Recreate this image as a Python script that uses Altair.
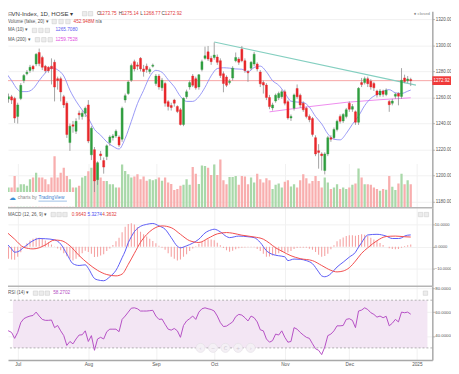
import altair as alt
import pandas as pd

FONT = "Liberation Sans"

# ---------------- data ----------------
days = list(range(-4, 129))  # trading-day index, 0 = 1 Jul 2024

opens = [1262, 1258.8, 1260.5, 1259.3, 1245.5, 1259.3, 1273, 1278.2, 1280.7, 1283.9,
         1285.7, 1294.5, 1290.7, 1283.9, 1283.2, 1284, 1287, 1274.4, 1274.4, 1260.6,
         1255.5, 1225.4, 1239, 1234.1, 1248, 1245.4, 1248, 1254.3, 1216, 1220,
         1197, 1216.7, 1211.6, 1214.7, 1225.5, 1229.2, 1230.5, 1229.7, 1228, 1258.1,
         1263.1, 1273.2, 1287.5, 1285, 1290, 1281.9, 1284, 1279.9, 1284, 1270.7,
         1276.4, 1267.4, 1270.7, 1256.8, 1253.8, 1258, 1253.1, 1250.6, 1239.3, 1260.6,
         1268.1, 1276.4, 1274.4, 1268.1, 1281.4, 1290, 1295, 1290, 1290.7, 1291,
         1288.2, 1278.2, 1275.7, 1271.4, 1274.9, 1288.2, 1289.5, 1297, 1288.2, 1279.9,
         1282.5, 1285.7, 1285.7, 1279.5, 1271.5, 1269.5, 1260, 1252, 1257.3, 1259.8,
         1260.6, 1264.4, 1256.8, 1244.3, 1251.8, 1266.9, 1261.8, 1255.6, 1251.8, 1245.5,
         1243.8, 1229.2, 1219.2, 1216.7, 1204, 1216.7, 1229.2, 1229.2, 1235.5, 1245.5,
         1242, 1245.5, 1255.6, 1251, 1249, 1241, 1271.4, 1271.4, 1274.4, 1272.4,
         1270.7, 1265, 1262, 1265, 1262.3, 1257, 1255.6, 1261, 1263, 1260.8,
         1275, 1272.8, 1273.75]
highs = [1264, 1263, 1262, 1260.5, 1256, 1271, 1278, 1281, 1285, 1285,
         1294, 1297.5, 1292, 1285, 1284, 1290, 1289, 1276, 1276, 1262,
         1257, 1240, 1242, 1244, 1250, 1250, 1253, 1258, 1238, 1222,
         1211, 1219, 1214, 1224, 1231, 1232, 1235.5, 1231, 1253, 1263,
         1273, 1286, 1289, 1287, 1291, 1285, 1286, 1283, 1286, 1278,
         1278, 1275, 1272, 1258, 1256, 1259, 1254, 1252, 1260, 1266,
         1273, 1278, 1276, 1278, 1289, 1299, 1299.5, 1292, 1302.2, 1293,
         1290, 1280, 1277, 1274, 1284, 1294.5, 1291, 1299.5, 1290, 1281,
         1288, 1295, 1287, 1281, 1273, 1271, 1262, 1256, 1263, 1264.5,
         1266, 1266, 1258, 1247, 1263, 1270, 1263, 1257, 1253, 1247,
         1245, 1231, 1224.2, 1218, 1218, 1230.5, 1231, 1237, 1243, 1247,
         1248, 1252, 1257, 1255, 1250, 1268, 1275, 1276, 1276, 1274,
         1272, 1266, 1266.5, 1266, 1267, 1258, 1259, 1263.5, 1264, 1282.5,
         1277.5, 1276.5, 1275.14]
lows = [1255, 1256, 1255, 1240.5, 1240, 1258, 1271, 1277, 1279, 1280,
        1284, 1284, 1281, 1279, 1279, 1270, 1257, 1266, 1257, 1252,
        1229, 1219, 1233, 1232, 1243, 1243, 1245, 1225, 1212, 1187.5,
        1193, 1212, 1201.6, 1212, 1223, 1227, 1229, 1222, 1226, 1256,
        1262, 1272, 1280, 1281, 1280, 1276, 1279, 1278, 1283, 1269,
        1266, 1265, 1253, 1250, 1250, 1253, 1248, 1238.5, 1238, 1259,
        1266, 1268, 1266, 1266, 1280, 1289, 1288, 1285, 1289, 1285,
        1275, 1264, 1268, 1270, 1273, 1287, 1285, 1287, 1279, 1272,
        1281, 1284, 1280, 1268, 1263, 1258, 1251, 1250, 1256, 1258,
        1259, 1254, 1243, 1242, 1250, 1259, 1252, 1249, 1244, 1241,
        1230, 1215, 1205.4, 1204, 1201, 1215, 1226, 1228, 1234, 1240,
        1240.5, 1244, 1249, 1249, 1239, 1239, 1268, 1270, 1268, 1266,
        1265, 1260, 1260.5, 1260.5, 1261, 1249, 1254, 1259, 1254, 1259,
        1271, 1271, 1268.77]
closes = [1259, 1260.6, 1258, 1244.2, 1254.3, 1269.3, 1276.9, 1279.4, 1283.2, 1281.9,
          1293.2, 1286, 1283.2, 1280.6, 1280.6, 1282, 1268, 1273, 1264.3, 1254.3,
          1231.6, 1238, 1238, 1241.7, 1246.7, 1248, 1251.7, 1226.6, 1236.5, 1196,
          1210, 1215.4, 1206.6, 1222.9, 1229.7, 1230.5, 1234.2, 1223.5, 1251.8, 1261.4,
          1271.9, 1284.5, 1281.9, 1284, 1281.9, 1279.9, 1281.5, 1281.5, 1284.8, 1276.4,
          1268.1, 1273.2, 1255.6, 1253.1, 1252.3, 1255.6, 1249.3, 1239.3, 1259.4, 1264.4,
          1271.4, 1269.4, 1267.4, 1277.4, 1287.5, 1292, 1289.5, 1287.5, 1292.5, 1287,
          1276.9, 1270.7, 1269.4, 1272.4, 1282.5, 1290.7, 1287, 1288.2, 1280.7, 1278.9,
          1287, 1293.2, 1281.9, 1270.5, 1269.5, 1260, 1253, 1254.3, 1261.8, 1263.1,
          1264.4, 1255.6, 1244.3, 1245.5, 1262, 1260.6, 1254.3, 1250.6, 1245.5, 1243,
          1231.7, 1216.7, 1217.9, 1215.4, 1216.7, 1229.2, 1228, 1235.5, 1241.8, 1241.8,
          1247, 1250.6, 1251, 1253, 1241, 1267, 1269.9, 1274.4, 1270.6, 1268.1,
          1267.4, 1262, 1265, 1262.5, 1265.6, 1254.5, 1257.3, 1262.5, 1261, 1273.2,
          1272.2, 1274.2, 1272.92]
volumes = [516, 390, 390, 610, 390, 453, 453, 422, 548, 579,
           673, 579, 579, 548, 453, 579, 988, 579, 673, 768,
           610, 548, 390, 390, 420, 579, 610, 700, 768, 900,
           831, 579, 516, 516, 453, 453, 390, 390, 832, 706,
           643, 580, 600, 643, 548, 600, 517, 548, 530, 548,
           580, 517, 580, 485, 454, 340, 360, 422, 441, 548,
           441, 781, 655, 454, 813, 800, 769, 630, 832, 630,
           926, 528, 453, 592, 592, 611, 441, 611, 598, 453,
           580, 485, 654, 548, 485, 567, 529, 359, 441, 466,
           390, 498, 529, 409, 453, 390, 529, 643, 567, 466,
           516, 611, 516, 390, 580, 485, 359, 390, 453, 359,
           390, 359, 390, 441, 466, 756, 580, 453, 453, 441,
           390, 359, 327, 359, 346, 611, 403, 340, 466, 654,
           453, 529, 452.948]
macd_hist = [-5.0, -5.5, -5.8, -5.9, -4.5, -2.5, -0.3, 1.5, 2.8, 3.6,
             4.0, 4.0, 3.5, 2.8, 2.0, 1.0, 0.1, -0.8, -1.6, -3.0,
             -4.3, -5.5, -6.2, -5.5, -4.5, -3.0, -1.8, -2.4, -3.2, -4.7,
             -4.5, -4.0, -3.4, -2.0, -0.8, 0.8, 2.5, 4.0, 6.5, 9.0,
             10.3, 10.6, 10.0, 8.8, 6.8, 5.6, 4.6, 3.6, 2.6, 1.5,
             0.4, -0.5, -1.4, -3.0, -4.5, -5.5, -6.2, -5.8, -4.5, -3.4,
             -2.0, -0.8, 0.2, 1.3, 2.2, 3.0, 3.4, 3.2, 2.9, 1.8,
             0.7, -0.6, -1.6, -2.3, -1.8, -1.2, -0.7, -0.5, -0.4, -0.3,
             -0.2, -0.3, -1.0, -1.9, -3.2, -4.6, -4.4, -4.0, -3.6, -3.0,
             -2.3, -2.3, -2.6, -2.0, -1.0, -0.6, -0.5, -0.5, -0.5, -0.9,
             -1.4, -2.4, -3.6, -4.6, -4.2, -3.2, -1.2, 0.6, 2.5, 3.4,
             4.2, 4.8, 5.2, 5.2, 5.0, 5.3, 5.6, 5.4, 4.8, 4.0,
             3.2, 2.6, 1.7, 0.8, 0.0, -0.7, -1.1, -1.2, -1.0, -0.5,
             0.3, 0.7, 0.9643]
rsi_values = [43, 44.3, 43, 38, 43, 51.2, 54.5, 55.8, 56.7, 57.2,
              60, 56.7, 53.9, 53.1, 53.1, 53.4, 47, 48.8, 44.3, 40.3,
              32.1, 35.4, 33.4, 37.5, 40.8, 41, 44.3, 35.4, 40.3, 28,
              37.5, 38.9, 37.5, 43.6, 45.7, 45.7, 45.7, 43.6, 53.9, 56.7,
              60, 63.3, 63.6, 62.8, 60.9, 60.9, 60.9, 61.2, 61.5, 56.7,
              53.9, 54.2, 49.8, 45.7, 44.9, 46.3, 44.3, 38.9, 48.8, 52.6,
              54.5, 56.7, 53.9, 60, 62.8, 63.6, 62.8, 62.2, 60.9, 56.7,
              51.2, 47.9, 48.3, 50, 51.8, 56.2, 58.1, 57.5, 55.3, 52.6,
              56.7, 55.3, 51.8, 45.2, 44.3, 37.5, 34.8, 36.1, 41.6, 40.8,
              44.3, 38.9, 34.8, 35.4, 47, 45.7, 43, 40.8, 38.9, 38,
              33.5, 29.3, 28, 24.4, 30.7, 40.3, 41.6, 44.3, 48.5, 48.5,
              48.8, 53.9, 54.5, 53.1, 47, 60.9, 61.7, 63.6, 62.2, 59.5,
              58.1, 55.8, 56.7, 55.3, 56.5, 48.5, 50.7, 53.9, 51.8, 60,
              59.5, 60, 58.2702]

ma10_days = [-4, -2, 0, 1, 3, 5, 7, 9, 11, 13, 15, 17, 19, 21, 23, 25, 27, 29, 31, 33,
             35, 37, 39, 41, 43, 45, 47, 49, 51, 53, 55, 57, 59, 61, 63, 65, 67, 69, 71, 73,
             75, 77, 79, 81, 83, 85, 87, 89, 91, 93, 95, 97, 99, 101, 103, 105, 107, 109, 111, 113,
             115, 117, 119, 121, 123, 125, 127, 128]
ma10_values = [1279.5, 1273, 1266, 1264.5, 1264.5, 1266.7, 1273, 1278.8, 1282.7, 1281.2,
               1276.5, 1265.6, 1257.2, 1250.4, 1244.1, 1235.5, 1231.1, 1226, 1222.6, 1220.5,
               1228.6, 1241.7, 1255.3, 1265.5, 1276, 1280.8, 1279.3, 1273.6, 1268.2, 1260.8,
               1257, 1257, 1260.6, 1267.8, 1276.6, 1282.2, 1282.8, 1282.5, 1281.9, 1281.7,
               1279.7, 1283, 1284.1, 1279.7, 1272.9, 1269.4, 1263.4, 1257.2, 1256.5, 1256.2,
               1252.6, 1245.4, 1239.8, 1232.1, 1228, 1227.5, 1232.4, 1239.5, 1245.7, 1253.8,
               1259.3, 1262.4, 1264.8, 1266, 1263.6, 1263.1, 1264.8, 1265.708]
ma200_days = [82, 95, 107, 118, 128]
ma200_values = [1249.0, 1253.0, 1256.3, 1258.3, 1259.7528]
trend_days = [64, 129.7]
trend_values = [1302.5, 1269.5]

macd_days = [-4, -2, -1, 0, 2, 5, 7, 9, 12, 14, 16, 18, 20, 22, 23, 25, 26, 28, 30, 32,
             34, 35, 36, 37, 38, 40, 42, 44, 46, 48, 50, 52, 53, 55, 57, 59, 61, 63, 64, 66,
             68, 69, 72, 75, 77, 79, 81, 83, 85, 87, 88, 90, 92, 94, 96, 98, 99, 100, 101, 102,
             104, 106, 108, 110, 111, 112, 113, 114, 117, 120, 122, 124, 125, 126, 127, 128]
macd_values = [2.0, -1.0, -2.5, -2.3, -0.3, 2.7, 3.7, 3.6, 3.1, 1.2, -3.3, -7.7, -8.5, -8.2, -9.8, -14.4, -15.0, -15.4, -13.6, -10.7,
               -5.0, -2.0, 1.8, 4.5, 6.8, 9.2, 10.1, 10.5, 9.4, 7.9, 4.1, 0.2, -0.5, 0.4, 1.6, 3.4, 6.2, 7.6, 7.9, 6.7,
               4.6, 4.1, 4.8, 4.5, 4.1, 1.9, -1.8, -3.5, -4.1, -4.6, -6.3, -5.6, -5.7, -6.3, -7.7, -11.4, -13.2, -13.6, -13.2, -12.2,
               -9.2, -7.0, -4.7, -2.5, -0.2, 1.8, 4.0, 5.3, 5.6, 4.8, 3.7, 3.7, 4.0, 4.8, 5.2, 5.3274]
signal_days = [-4, -1, 2, 5, 7, 9, 12, 14, 17, 20, 23, 26, 29, 32, 34, 36, 38, 40, 42, 44,
               47, 50, 53, 56, 59, 62, 65, 68, 70, 73, 77, 80, 82, 84, 86, 89, 92, 96, 99, 102,
               104, 106, 108, 110, 112, 114, 117, 120, 123, 126, 128]
signal_values = [7.1, 3.4, -0.3, -1.0, -0.5, 0.8, 3.0, 2.8, 0.4, -4.0, -7.7, -10.7, -12.6, -13.2, -12.4, -8.0, -3.0, 2.0, 5.5, 7.9,
                 9.4, 8.6, 5.6, 2.7, 1.9, 3.8, 5.8, 6.4, 6.1, 5.2, 4.4, 3.4, 1.6, -0.5, -2.0, -4.1, -5.4, -6.3, -8.5, -10.7,
                 -11.4, -11.0, -9.5, -6.5, -3.0, -0.5, 2.7, 4.6, 4.8, 4.5, 4.3632]

tick_days = [0, 9, 23, 32, 45, 54, 64, 73, 87, 96, 108, 117, 130]
tick_labels = ["Jul", "12", "Aug", "14", "Sep", "17", "Oct", "14", "Nov", "14", "Dec", "13", "2025"]
price_ticks = [1180, 1200, 1220, 1240, 1260, 1280, 1300, 1320]
macd_ticks = [-10, 0, 10]
rsi_ticks = [40, 60, 80]
rsi_levels = [70, 30]
last_volume_text = "452.948M"

# ---------------- styling / layout ----------------
W, H = 432, 355
UP, DOWN = "#2f9e3f", "#e8262a"
VOL_UP, VOL_DOWN = "#a9d8a9", "#f8aeae"
WICK = "#8c8c8c"
GRID = "#f1f1f1"
AXC = "#a8a8a8"
LBL = "#555555"

df = pd.DataFrame({"day": days, "open": opens, "high": highs, "low": lows,
                   "close": closes, "volume": volumes, "hist": macd_hist, "rsi": rsi_values})
df_ma10 = pd.DataFrame({"day": ma10_days, "value": ma10_values})
df_ma200 = pd.DataFrame({"day": ma200_days, "value": ma200_values})
df_trend = pd.DataFrame({"day": trend_days, "value": trend_values})
df_macd = pd.DataFrame({"day": macd_days, "value": macd_values})
df_signal = pd.DataFrame({"day": signal_days, "value": signal_values})
df_last = pd.DataFrame({"close": [closes[-1]], "label": [f"{closes[-1]:.2f}"]})
df_band = pd.DataFrame({"upper": [rsi_levels[0]], "lower": [rsi_levels[1]]})
df_levels = pd.DataFrame({"level": rsi_levels})
one = pd.DataFrame({"a": [1]})

label_expr = ("[" + ",".join(f"'{t}'" for t in tick_labels) + "][indexof(["
              + ",".join(str(d) for d in tick_days) + "], datum.value)]")

x_scale = alt.Scale(domain=[-1.5625, 133.4375], nice=False, zero=False)
x_axis = alt.Axis(values=tick_days, labelExpr=label_expr, orient="bottom", title=None,
                  grid=True, gridColor=GRID, gridWidth=1, ticks=False,
                  domainColor=AXC, domainWidth=1.5, labelFont=FONT, labelFontSize=4.8,
                  labelColor=LBL, labelPadding=2, labelOverlap=False, labelFlush=False)
X = alt.X("day:Q", scale=x_scale, axis=x_axis)


def yaxis(values, fmt, size=4.6, pad=1):
    return alt.Axis(orient="right", values=values, format=fmt, title=None, grid=True,
                    gridColor=GRID, domainColor=AXC, domainWidth=1.5, tickColor=AXC,
                    tickSize=2, labelFont=FONT, labelFontSize=size, labelColor=LBL,
                    labelPadding=pad, labelFlush=False, labelOverlap=False, labelBound=False)


price_scale = alt.Scale(domain=[1175.48, 1326.14], range=[200, 0], nice=False, zero=False)
price_axis = yaxis(price_ticks, ".2f")
vol_scale = alt.Scale(domain=[0, 3780], range=[200, 0], nice=False, zero=True)
macd_scale = alt.Scale(domain=[-17.91, 17.64], range=[280, 200], nice=False, zero=False)
macd_axis = yaxis(macd_ticks, ".4f", size=4.15, pad=0)
rsi_scale = alt.Scale(domain=[19.92, 81.65], range=[355, 280], nice=False, zero=False)
rsi_axis = yaxis(rsi_ticks, ".4f", size=4.4, pad=0.5)

up_cond = "datum.close >= datum.open"

# ---------------- price pane ----------------
volume_bars = alt.Chart(df).mark_bar(size=2.3, clip=True).encode(
    x=X, y=alt.Y("volume:Q", scale=vol_scale, axis=None, stack=None),
    color=alt.condition(up_cond, alt.value(VOL_UP), alt.value(VOL_DOWN)))

price_line = alt.Chart(df_last).mark_rule(color="#f6a3a3", strokeWidth=1).encode(
    y=alt.Y("close:Q", scale=price_scale, axis=price_axis))
ma200_line = alt.Chart(df_ma200).mark_line(color="#ee8bee", strokeWidth=1, clip=True).encode(
    x=X, y=alt.Y("value:Q", scale=price_scale, axis=price_axis))
ma10_line = alt.Chart(df_ma10).mark_line(color="#8c8cf5", strokeWidth=0.9, clip=True,
                                         interpolate="monotone").encode(
    x=X, y=alt.Y("value:Q", scale=price_scale, axis=price_axis))
trend_line = alt.Chart(df_trend).mark_line(color="#84cfc0", strokeWidth=1.1, clip=True).encode(
    x=X, y=alt.Y("value:Q", scale=price_scale, axis=price_axis))
wicks = alt.Chart(df).mark_rule(color=WICK, strokeWidth=0.8, clip=True).encode(
    x=X, y=alt.Y("low:Q", scale=price_scale, axis=price_axis), y2="high:Q")
bodies = alt.Chart(df).mark_bar(size=2.1, strokeWidth=0.4, clip=True).encode(
    x=X, y=alt.Y("open:Q", scale=price_scale, axis=price_axis), y2="close:Q",
    color=alt.condition(up_cond, alt.value(UP), alt.value(DOWN)),
    stroke=alt.condition(up_cond, alt.value(UP), alt.value(DOWN)))
price_tag = alt.Chart(df_last).mark_point(
    shape="M-1,-0.47L1,-0.47L1,0.47L-1,0.47Z", filled=True, size=361, opacity=1,
    color="#f03a3a").encode(x=alt.value(441.5), y=alt.Y("close:Q", scale=price_scale, axis=price_axis))
price_tag_text = alt.Chart(df_last).mark_text(font=FONT, fontSize=4.6, color="white",
                                              align="center", baseline="middle").encode(
    x=alt.value(441.5), y=alt.Y("close:Q", scale=price_scale, axis=price_axis), text="label:N")

price_inner = alt.layer(price_line, ma200_line, ma10_line, trend_line, wicks, bodies,
                        price_tag, price_tag_text)
price_group = alt.layer(volume_bars, price_inner).resolve_scale(y="independent")

# ---------------- MACD pane ----------------
hist_bars = alt.Chart(df).mark_bar(size=1.1, color="#f5a3a3", clip=True).encode(
    x=X, y=alt.Y("hist:Q", scale=macd_scale, axis=macd_axis, stack=None))
macd_line = alt.Chart(df_macd).mark_line(color="#5b5bf6", strokeWidth=1, clip=True,
                                         interpolate="monotone").encode(
    x=X, y=alt.Y("value:Q", scale=macd_scale, axis=macd_axis))
signal_line = alt.Chart(df_signal).mark_line(color="#f24b4b", strokeWidth=1, clip=True,
                                             interpolate="monotone").encode(
    x=X, y=alt.Y("value:Q", scale=macd_scale, axis=macd_axis))
macd_group = alt.layer(hist_bars, macd_line, signal_line)

# ---------------- RSI pane ----------------
rsi_band = alt.Chart(df_band).mark_rect(color="#f3e6f4").encode(
    x=alt.datum(-1.5625), x2=alt.datum(133.4375),
    y=alt.Y("upper:Q", scale=rsi_scale, axis=rsi_axis), y2="lower:Q")
rsi_band_lines = alt.Chart(df_levels).mark_rule(color="#a0a0a0", strokeWidth=0.8,
                                                strokeDash=[2, 2]).encode(
    y=alt.Y("level:Q", scale=rsi_scale, axis=rsi_axis))
rsi_line = alt.Chart(df).mark_line(color="#b54fc4", strokeWidth=1, clip=True).encode(
    x=X, y=alt.Y("rsi:Q", scale=rsi_scale, axis=rsi_axis))
rsi_group = alt.layer(rsi_band, rsi_band_lines, rsi_line)

# ---------------- decorations ----------------
decor = []


def txt(s, x, y, color=LBL, size=4.6, align="left", weight="normal", font=FONT):
    decor.append(alt.Chart(one).mark_text(text=s, font=font, fontSize=size, color=color,
                                          align=align, baseline="middle", fontWeight=weight)
                 .encode(x=alt.value(x), y=alt.value(y)))


def box(x, y):
    decor.append(alt.Chart(one).mark_square(size=20, color="#ececec", stroke="#c9c9c9",
                                            strokeWidth=0.5, opacity=1)
                 .encode(x=alt.value(x), y=alt.value(y)))


# pane separators
for ysep in (200, 280):
    decor.append(alt.Chart(one).mark_rule(color="#b5b5b5", strokeWidth=1.5).encode(
        x=alt.value(0), x2=alt.value(W), y=alt.value(ysep)))

# TradingView logo box
decor.append(alt.Chart(one).mark_rect(color="white").encode(
    x=alt.value(0), x2=alt.value(68), y=alt.value(184), y2=alt.value(199)))
txt("☁", 1, 190.5, color="#3d8fd6", size=7, font="DejaVu Sans")
txt("charts by", 10, 190.5, color="#8a8a8a", size=4.8)
txt("TradingView", 31, 190.5, color="#3d7fd0", size=4.8)
decor.append(alt.Chart(one).mark_rule(color="#3d7fd0", strokeWidth=0.5).encode(
    x=alt.value(31), x2=alt.value(60), y=alt.value(193.3)))

# header lines
RED = "#e23a3a"
txt("⊟", 0, 2.5, color="#777", size=5.5, font="DejaVu Sans")
txt("VN-Index, 1D, HOSE ▾", 3.5, 2.5, color="#3a3a3a", size=6.2)
box(78, 2.5); box(84, 2.5)
for lab, xl, val, xv in (("O", 90.5, opens[-1], 93.3), ("H", 112.7, highs[-1], 115.7),
                         ("L", 134.7, lows[-1], 138), ("C", 156.3, closes[-1], 159.7)):
    txt(lab, xl, 2.5, color="#444", size=4.8)
    txt(f"{val:.2f}", xv, 2.5, color=RED, size=4.8)
txt("● closed", 413, 2.5, color="#8a8a8a", size=4.4)

txt("Volume (false, 20) ▾", 0, 10.5)
box(47, 10.5); box(54, 10.5); box(61, 10.5)
txt(last_volume_text, 66.7, 10.5, color=RED, size=4.8)
txt("n/a", 89, 10.5, size=4.6)

txt("MA (10) ▾", 0, 19.5)
box(27, 19.5); box(33.5, 19.5); box(40, 19.5)
txt(f"{ma10_values[-1]:.4f}", 48.3, 19.5, color="#5a5af0", size=4.8)

txt("MA (200) ▾", 0, 29)
box(30, 29); box(36.5, 29); box(43, 29)
txt(f"{ma200_values[-1]:.4f}", 48.3, 29, color="#e04fe0", size=4.8)

# MACD header
txt("MACD (12, 26, 9) ▾", 0, 207)
box(46, 207); box(52, 207); box(58, 207)
txt(f"{macd_hist[-1]:.4f}", 65, 207, color=RED, size=4.8)
txt(f"{macd_values[-1]:.4f}", 81, 207, color="#4a4af0", size=4.8)
txt(f"{signal_values[-1]:.4f}", 96, 207, color=RED, size=4.8)
box(420, 207); box(426, 207)

# RSI header
txt("RSI (14) ▾", 0, 287)
box(28, 287); box(34, 287); box(40, 287)
txt(f"{rsi_values[-1]:.4f}", 46, 287, color="#b54fc4", size=4.8)
box(425, 287)

# navigation buttons
for xb, sym in ((196, "‹"), (208.7, "−"), (221.3, "C"), (234.3, "+"), (247, "›")):
    decor.append(alt.Chart(one).mark_circle(size=85, color="#f4f0f5", stroke="#e2dce4",
                                            strokeWidth=0.6, opacity=1)
                 .encode(x=alt.value(xb), y=alt.value(342.7)))
    txt(sym, xb, 342.7, color="#cfc8d2", size=5, align="center", font="DejaVu Sans")

chart = alt.layer(price_group, macd_group, rsi_group, *decor).resolve_scale(
    y="independent"
).properties(
    width=W, height=H,
    autosize=alt.AutoSizeParams(type="none"),
    padding={"left": 0, "top": 0, "right": 19, "bottom": 11},
    background="white",
).configure_view(stroke=None)

chart.save("out.html", embed_options={"renderer": "svg", "actions": False})
